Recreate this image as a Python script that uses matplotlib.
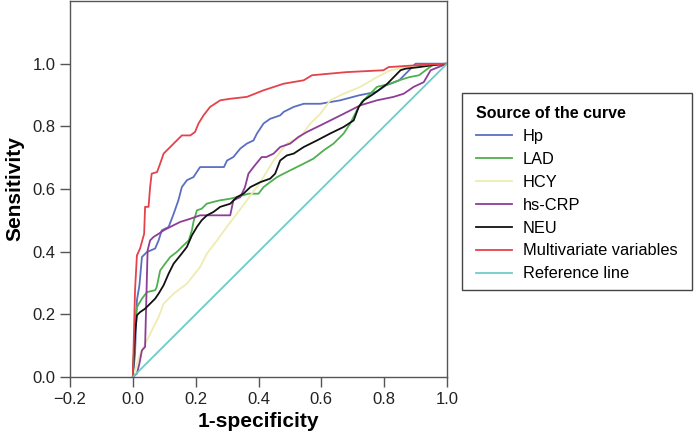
import matplotlib
matplotlib.use("Agg")
import matplotlib.pyplot as plt
from matplotlib.patches import Rectangle

plt.rcParams['font.family'] = ['Liberation Sans', 'DejaVu Sans']

# ROC curves: (1-specificity, sensitivity)
hp_x = [0, 0.007, 0.013, 0.021, 0.029, 0.045, 0.071, 0.082, 0.092, 0.114, 0.13, 0.145, 0.156, 0.172, 0.193, 0.214, 0.29,
        0.30, 0.32, 0.342, 0.363, 0.384, 0.395, 0.416, 0.437, 0.469, 0.48, 0.512, 0.544, 0.597, 0.66, 0.72, 0.775,
        0.806, 0.848, 0.9, 1.0]
hp_y = [0, 0.074, 0.245, 0.293, 0.383, 0.399, 0.41, 0.436, 0.468, 0.479, 0.521, 0.564, 0.606, 0.628, 0.638, 0.67, 0.67,
        0.691, 0.702, 0.729, 0.745, 0.755, 0.777, 0.809, 0.824, 0.835, 0.846, 0.862, 0.872, 0.872, 0.883, 0.899, 0.91,
        0.931, 0.947, 1.0, 1.0]

lad_x = [0, 0.004, 0.007, 0.013, 0.029, 0.045, 0.071, 0.076, 0.087, 0.103, 0.119, 0.14, 0.156, 0.178, 0.188, 0.193,
         0.204, 0.219, 0.235, 0.257, 0.278, 0.31, 0.331, 0.368, 0.4, 0.416, 0.437, 0.459, 0.48, 0.512, 0.544, 0.575,
         0.607, 0.639, 0.671, 0.692, 0.713, 0.729, 0.756, 0.777, 0.82, 0.848, 0.88, 0.911, 0.932, 0.954, 1.0]
lad_y = [0, 0.096, 0.181, 0.223, 0.25, 0.271, 0.277, 0.287, 0.34, 0.362, 0.383, 0.399, 0.415, 0.436, 0.468, 0.495,
         0.532, 0.537, 0.553, 0.559, 0.564, 0.569, 0.574, 0.585, 0.585, 0.606, 0.622, 0.638, 0.649, 0.665, 0.681, 0.697,
         0.723, 0.745, 0.777, 0.809, 0.851, 0.878, 0.904, 0.926, 0.936, 0.947, 0.957, 0.963, 0.979, 0.995, 1.0]

hcy_x = [0, 0.023, 0.045, 0.066, 0.082, 0.098, 0.13, 0.172, 0.214, 0.236, 0.268, 0.299, 0.331, 0.363, 0.406, 0.448,
         0.49, 0.533, 0.565, 0.597, 0.628, 0.671, 0.724, 0.777, 0.82, 0.873, 0.954, 1.0]
hcy_y = [0, 0.074, 0.117, 0.16, 0.191, 0.234, 0.266, 0.298, 0.351, 0.394, 0.436, 0.479, 0.521, 0.564, 0.622, 0.691,
         0.745, 0.766, 0.809, 0.84, 0.883, 0.904, 0.926, 0.957, 0.979, 0.989, 0.995, 1.0]

crp_x = [0, 0.013, 0.021, 0.029, 0.039, 0.047, 0.055, 0.066, 0.082, 0.098, 0.119, 0.151, 0.183, 0.214, 0.31, 0.32,
         0.342, 0.357, 0.368, 0.384, 0.41, 0.425, 0.448, 0.469, 0.501, 0.527, 0.554, 0.597, 0.639, 0.671, 0.724, 0.777,
         0.83, 0.862, 0.894, 0.926, 0.948, 1.0]
crp_y = [0, 0.011, 0.043, 0.085, 0.096, 0.404, 0.436, 0.447, 0.457, 0.468, 0.479, 0.495, 0.505, 0.516, 0.516, 0.564,
         0.574, 0.606, 0.649, 0.67, 0.702, 0.702, 0.713, 0.734, 0.745, 0.766, 0.782, 0.803, 0.824, 0.84, 0.867, 0.883,
         0.894, 0.904, 0.926, 0.941, 0.979, 1.0]

neu_x = [0, 0.004, 0.008, 0.013, 0.023, 0.039, 0.055, 0.071, 0.082, 0.098, 0.114, 0.13, 0.151, 0.172, 0.188, 0.204,
         0.219, 0.236, 0.257, 0.278, 0.31, 0.331, 0.352, 0.374, 0.406, 0.437, 0.453, 0.469, 0.49, 0.512, 0.544, 0.586,
         0.628, 0.671, 0.703, 0.719, 0.735, 0.767, 0.81, 0.852, 0.868, 0.911, 0.954, 1.0]
neu_y = [0, 0.085, 0.149, 0.197, 0.207, 0.218, 0.234, 0.25, 0.266, 0.293, 0.33, 0.362, 0.388, 0.415, 0.452, 0.479,
         0.5, 0.516, 0.527, 0.543, 0.553, 0.574, 0.585, 0.606, 0.622, 0.633, 0.649, 0.691, 0.707, 0.713, 0.734, 0.755,
         0.777, 0.798, 0.819, 0.862, 0.883, 0.904, 0.936, 0.979, 0.984, 0.989, 0.995, 1.0]

mv_x = [0, 0.007, 0.013, 0.023, 0.036, 0.039, 0.05, 0.055, 0.06, 0.077, 0.087, 0.098, 0.119, 0.14, 0.156, 0.183,
        0.198, 0.209, 0.225, 0.246, 0.278, 0.31, 0.363, 0.416, 0.48, 0.544, 0.57, 0.68, 0.798, 0.814, 0.904, 1.0]
mv_y = [0, 0.277, 0.388, 0.41, 0.457, 0.543, 0.543, 0.606, 0.649, 0.654, 0.681, 0.713, 0.734, 0.755, 0.771, 0.771,
        0.782, 0.809, 0.835, 0.862, 0.883, 0.888, 0.894, 0.915, 0.936, 0.947, 0.963, 0.973, 0.979, 0.989, 0.995, 1.0]

ref_x = [0, 1]
ref_y = [0, 1]

labels = ["Hp", "LAD", "HCY", "hs-CRP", "NEU", "Multivariate variables", "Reference line"]
colors = ["#5b6fc0", "#4fb04f", "#eeecb0", "#8e3d97", "#111111", "#e5424b", "#6ccdc8"]
xticks = [-0.2, 0.0, 0.2, 0.4, 0.6, 0.8, 1.0]
yticks = [0.0, 0.2, 0.4, 0.6, 0.8, 1.0]

fig = plt.figure(figsize=(6.96, 4.38), dpi=100)
ax = fig.add_axes([70 / 696, 61 / 438, 377 / 696, 376 / 438])

series = [(hp_x, hp_y), (lad_x, lad_y), (hcy_x, hcy_y), (crp_x, crp_y), (neu_x, neu_y), (mv_x, mv_y), (ref_x, ref_y)]
handles = []
for (xs, ys), lab, col in zip(series, labels, colors):
    h, = ax.plot(xs, ys, color=col, lw=1.3, label=lab)
    handles.append(h)

ax.set_xlim(-0.2, 1.0)
ax.set_ylim(0, 1.2)
ax.set_xticks(xticks)
ax.set_yticks(yticks)
ax.set_xticklabels(["\u22120.2" if t < 0 else f"{t:.1f}" for t in xticks])
ax.set_yticklabels([f"{t:.1f}" for t in yticks])
ax.tick_params(direction='out', length=7, width=1, color='#555555', labelsize=12, labelcolor='#222222')
for sp in ax.spines.values():
    sp.set_color('#555555')
    sp.set_linewidth(1)
ax.set_xlabel("1-specificity", fontsize=15, fontweight='bold', labelpad=4)
ax.set_ylabel("Sensitivity", fontsize=15, fontweight='bold', labelpad=6)

# legend frame drawn as figure rectangle
fig.patches.append(Rectangle((462 / 696, 1 - 290 / 438), 230 / 696, 197 / 438, transform=fig.transFigure,
                             facecolor='white', edgecolor='#444444', lw=1, zorder=0))

leg = fig.legend(handles=handles, labels=labels, loc='upper left', bbox_to_anchor=(468 / 696, 1 - 98 / 438),
                 title="Source of the curve", title_fontproperties={'weight': 'bold', 'size': 11.5},
                 alignment='left', fontsize=11.8, frameon=False,
                 handlelength=2.2, handletextpad=0.65, labelspacing=0.48, borderpad=0.5, borderaxespad=0)

fig.savefig("out.png", dpi=100)
